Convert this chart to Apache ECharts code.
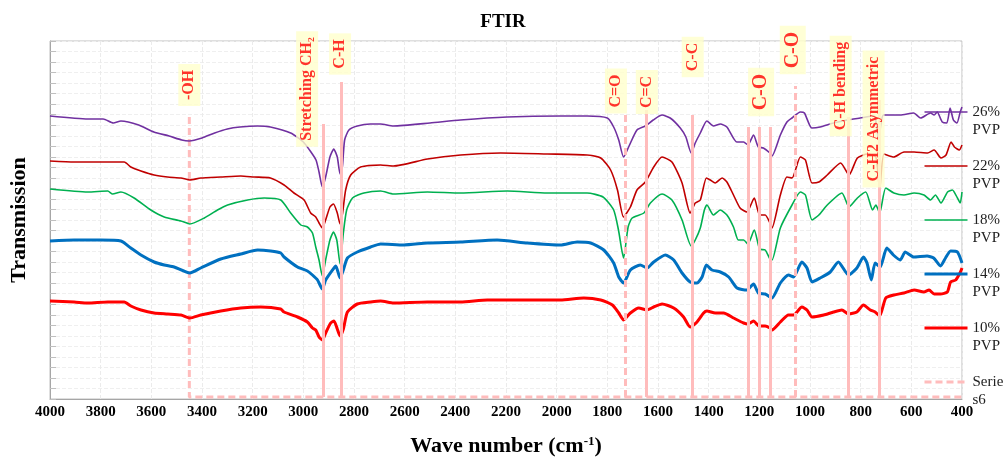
<!DOCTYPE html>
<html><head><meta charset="utf-8">
<script src="https://cdn.jsdelivr.net/npm/echarts@6/dist/echarts.min.js"></script>
<style>html,body{margin:0;padding:0;background:#fff}#c{width:1006px;height:464px}</style>
</head><body><div id="c"></div>
<script>
// ---- DATA ----
const seriesNames = ['26% PVP', '22% PVP', '18% PVP', '14% PVP', '10% PVP'];
const p26 = [[4000,283],[3850,280],[3790,280],[3750,276],[3720,278],[3650,274],[3590,267],[3530,263],[3480,259],[3450,258],[3400,261],[3350,266],[3300,270],[3250,272],[3180,273],[3130,272],[3050,266],[3000,257],[2970,247],[2950,239],[2938,227],[2925,212],[2912,222],[2895,242],[2880,250],[2866,242],[2855,225],[2846,232],[2837,259],[2820,269],[2787,273],[2735,275],[2695,275],[2645,273],[2500,276],[2380,279],[2195,282],[1985,283],[1880,283],[1800,281],[1775,272],[1755,259],[1736,242],[1716,252],[1683,269],[1650,273],[1619,279],[1584,284],[1552,281],[1512,271],[1490,262],[1469,246],[1453,256],[1433,266],[1407,278],[1381,273],[1354,275],[1328,272],[1289,257],[1262,257],[1245,254],[1223,264],[1204,252],[1184,251],[1158,246],[1150,243],[1117,264],[1091,277],[1071,281],[1038,287],[1022,286],[993,271],[960,272],[907,276],[854,279],[802,281],[749,283],[740,278],[729,259],[720,275],[710,284],[644,284],[591,286],[563,281],[524,286],[510,284],[498,287],[478,277],[460,276],[447,291],[434,279],[420,276],[407,287],[400,292]];
const p22 = [[4000,238],[3904,237],[3800,237],[3707,237],[3681,232],[3641,228],[3589,224],[3536,222],[3483,221],[3448,219],[3405,221],[3326,222],[3247,223],[3194,222],[3130,221],[3076,214],[3037,206],[2997,199],[2971,186],[2951,182],[2938,176],[2925,171],[2912,179],[2895,192],[2881,195],[2866,186],[2855,175],[2845,186],[2833,209],[2813,224],[2774,232],[2695,234],[2644,233],[2510,240],[2379,244],[2221,246],[2037,245],[1880,244],[1826,241],[1787,229],[1760,209],[1736,182],[1709,192],[1683,209],[1650,217],[1617,232],[1584,242],[1545,237],[1505,216],[1473,186],[1453,196],[1433,199],[1409,221],[1394,219],[1374,216],[1347,221],[1328,217],[1302,204],[1276,191],[1249,187],[1220,201],[1199,184],[1177,184],[1158,176],[1150,171],[1117,204],[1091,222],[1071,221],[1038,242],[1018,239],[992,216],[965,217],[932,224],[879,236],[846,224],[813,241],[773,245],[740,242],[725,209],[708,245],[669,242],[629,247],[589,247],[536,246],[510,249],[483,241],[463,244],[443,257],[430,252],[411,249],[400,254]];
const p18 = [[4000,210],[3851,207],[3772,208],[3753,205],[3720,207],[3668,201],[3602,189],[3549,182],[3483,178],[3448,175],[3391,181],[3339,189],[3299,194],[3220,199],[3155,201],[3089,199],[3050,186],[3010,174],[2984,172],[2964,166],[2951,152],[2938,139],[2925,123],[2912,139],[2895,159],[2881,167],[2868,159],[2855,135],[2842,166],[2829,189],[2806,201],[2761,206],[2695,208],[2644,205],[2510,207],[2379,206],[2195,208],[2037,206],[1880,206],[1817,202],[1775,189],[1756,169],[1736,141],[1718,172],[1702,181],[1656,186],[1630,196],[1584,205],[1545,199],[1505,179],[1469,153],[1453,159],[1433,171],[1417,189],[1407,194],[1381,184],[1354,189],[1328,184],[1302,172],[1283,159],[1262,159],[1245,155],[1220,169],[1199,150],[1177,149],[1158,140],[1150,139],[1117,171],[1071,194],[1038,207],[1018,204],[992,179],[965,184],[932,194],[874,206],[846,192],[813,201],[780,207],[753,189],[740,194],[725,186],[701,211],[669,206],[629,204],[589,206],[550,204],[524,199],[505,204],[483,196],[457,207],[438,209],[418,201],[407,196],[400,207]];
const p14 = [[4000,158],[3904,159],[3800,159],[3720,158],[3681,151],[3641,144],[3589,137],[3549,134],[3510,132],[3448,126],[3405,131],[3326,140],[3247,145],[3181,149],[3129,148],[3089,146],[3076,142],[3023,132],[2984,128],[2964,124],[2944,119],[2925,110],[2912,119],[2885,129],[2872,133],[2855,121],[2842,129],[2826,141],[2787,147],[2734,152],[2695,155],[2603,154],[2511,156],[2379,157],[2235,159],[2116,156],[1985,154],[1919,157],[1866,156],[1814,149],[1775,136],[1755,122],[1736,116],[1709,129],[1670,134],[1643,131],[1617,137],[1571,144],[1538,139],[1505,126],[1473,117],[1446,116],[1426,122],[1409,134],[1387,129],[1354,127],[1321,122],[1288,111],[1249,109],[1223,115],[1204,106],[1177,105],[1158,102],[1150,101],[1117,116],[1085,124],[1065,122],[1032,137],[1012,131],[992,117],[960,121],[920,127],[888,137],[848,124],[815,131],[789,142],[775,136],[758,119],[743,136],[723,132],[697,151],[671,144],[644,139],[624,147],[591,142],[538,143],[512,141],[485,133],[465,141],[445,148],[418,147],[400,136]];
const p10 = [[4000,98],[3904,97],[3851,96],[3772,97],[3707,97],[3681,93],[3641,89],[3589,86],[3536,85],[3483,84],[3448,81],[3405,84],[3326,88],[3247,91],[3168,92],[3089,90],[3076,87],[3023,82],[2984,77],[2964,71],[2951,69],[2938,62],[2925,59],[2912,66],[2892,76],[2879,78],[2866,70],[2855,63],[2842,70],[2826,87],[2787,95],[2734,97],[2695,98],[2644,96],[2511,97],[2379,97],[2274,99],[2116,99],[1985,99],[1893,101],[1826,99],[1780,94],[1755,86],[1736,79],[1709,86],[1676,91],[1643,89],[1617,92],[1584,95],[1538,91],[1499,82],[1473,72],[1446,77],[1420,86],[1407,88],[1374,86],[1341,86],[1302,81],[1262,76],[1245,75],[1223,78],[1201,73],[1177,73],[1158,71],[1150,69],[1117,77],[1085,84],[1065,84],[1032,92],[1012,89],[992,82],[946,84],[907,87],[874,89],[848,85],[815,87],[789,94],[762,89],[743,87],[725,83],[701,101],[669,104],[629,106],[589,109],[550,107],[530,109],[510,105],[485,105],[458,107],[445,117],[425,119],[408,126],[400,131]];
// Series6: marker line (OH peak down to baseline then along the baseline)
const series6 = [[3450,282],[3450,2],[400,2]];
// other peak marker lines: [wavenumber, top]
const peakLines = [[2920,275],[2850,317],[1730,285],[1645,289],[1465,284],[1245,272],[1200,272],[1155,272],[1060,313],[850,282],[725,299]];
// band annotations: [wavenumber, centre value, text]
const annotations = [[3450,314,'-OH'],[2985,310,'Stretching CH\u2082'],[2855,345,'C-H'],[1766,308,'C=O'],[1644,307,'C=C'],[1463,342,'C-C'],[1193,307,'C-O'],[1068,349,'C-O'],[879,313,'C-H bending'],[749,280,'C-H2 Asymmetric']];

// ---- CHART ----
const SERIF = '"Liberation Serif","Times New Roman",serif';
const colors = ['#7030a0', '#c00000', '#00b050', '#0070c0', '#ff0000'];
const widths = [1.6, 1.6, 1.6, 3, 3];
const curves = [p26, p22, p18, p14, p10];
const dashedPeaks = [1730, 1060];
const PINK = '#ffbcbc';

const series = curves.map((d, i) => ({
  name: seriesNames[i], type: 'line', data: d, symbol: 'none', smooth: 0.2,
  lineStyle: { color: colors[i], width: widths[i] }, itemStyle: { color: colors[i] },
  z: 3, silent: true
}));
series.push({
  name: 'Series6', type: 'line', data: series6, symbol: 'none', z: 2, silent: true,
  lineStyle: { color: PINK, width: 3, type: [7, 4] }, itemStyle: { color: PINK },
  markLine: {
    silent: true, symbol: 'none', label: { show: false },
    data: peakLines.map(p => [
      { coord: [p[0], 2], lineStyle: { color: PINK, width: 3, type: dashedPeaks.includes(p[0]) ? [7, 4] : 'solid' } },
      { coord: [p[0], p[1]] }
    ])
  }
});
series.push({
  name: 'labels', type: 'scatter', symbolSize: 0, z: 5, silent: true,
  data: annotations.map(a => ({
    value: a,
    label: { fontSize: a[2] === 'C-O' ? 20 : 16 }
  })),
  label: {
    show: true, position: 'inside', rotate: 90, formatter: p => p.value[2],
    color: '#ff0000', fontWeight: 'bold', fontFamily: SERIF,
    backgroundColor: '#ffffcc', padding: [3, 6, 3, 6]
  }
});

const legendData = seriesNames.map((n, i) => ({ name: n, lineStyle: { width: widths[i], color: colors[i] } }))
  .concat([{ name: 'Series6', lineStyle: { width: 3, color: PINK, type: [7, 4] } }]);

const chart = echarts.init(document.getElementById('c'), null, { renderer: 'canvas' });
chart.setOption({
  animation: false,
  backgroundColor: '#fff',
  title: { text: 'FTIR', left: 'center', top: 8,
    textStyle: { fontFamily: SERIF, fontWeight: 'bold', fontSize: 19, color: '#000' } },
  grid: { left: 49, right: 44, top: 41, bottom: 65, show: true, borderColor: '#bfbfbf', borderWidth: 1 },
  legend: {
    data: legendData, orient: 'vertical', left: 918, top: 80, itemGap: 0,
    itemWidth: 43, itemHeight: 14,
    itemStyle: { opacity: 0 },
    formatter: n => n === 'Series6' ? '\nSerie\ns6' : '\n' + n.replace(' ', '\n'),
    textStyle: { fontFamily: SERIF, fontSize: 15, lineHeight: 18, color: '#222' }
  },
  xAxis: {
    type: 'value', min: 400, max: 4000, interval: 200, inverse: true,
    name: 'Wave number (cm{sup|-1})', nameLocation: 'middle', nameGap: 36,
    nameTextStyle: { fontFamily: SERIF, fontWeight: 'bold', fontSize: 22, color: '#000',
      rich: { sup: { fontFamily: SERIF, fontWeight: 'bold', fontSize: 13, verticalAlign: 'top', color: '#000' } } },
    axisLine: { lineStyle: { color: '#a6a6a6' } },
    axisTick: { show: false },
    axisLabel: { fontFamily: SERIF, fontWeight: 'bold', fontSize: 15, color: '#000', margin: 6,
      formatter: v => String(v) },
    splitLine: { show: true, lineStyle: { color: '#ebebeb', type: 'dashed' } }
  },
  yAxis: {
    type: 'value', min: 0, max: 358, interval: 358 / 34,
    name: 'Transmission', nameLocation: 'middle', nameGap: 20,
    nameTextStyle: { fontFamily: SERIF, fontWeight: 'bold', fontSize: 22, color: '#000' },
    axisLine: { show: true, lineStyle: { color: '#a6a6a6' } },
    axisTick: { show: true, inside: true, length: 6, lineStyle: { color: '#bfbfbf' } },
    axisLabel: { show: false },
    splitLine: { show: true, lineStyle: { color: '#efefef', type: 'dashed' } }
  },
  series: series
});
</script></body></html>
